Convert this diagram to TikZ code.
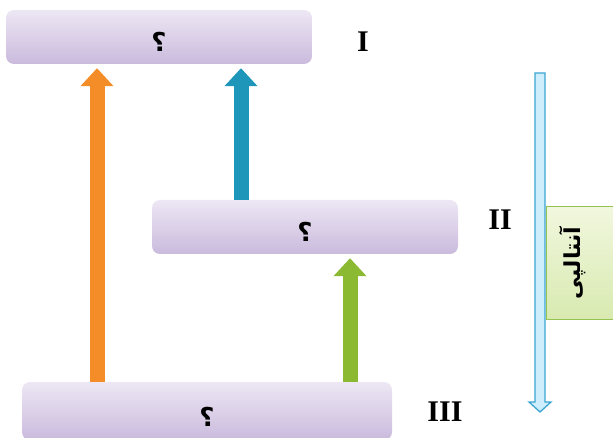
\documentclass[tikz,border=0pt]{standalone}
\usepackage{fontspec}
\setmainfont{Liberation Serif}
\newfontfamily\arabicfont[Script=Arabic]{DejaVu Sans}
\TeXXeTstate=1
\usepackage{tikz}
\usetikzlibrary{positioning, arrows.meta, calc}

\definecolor{boxtop}{RGB}{237,231,244}
\definecolor{boxbot}{RGB}{202,186,221}
\definecolor{enttop}{RGB}{241,247,222}
\definecolor{entbot}{RGB}{216,234,176}
\definecolor{entline}{RGB}{150,196,80}
\definecolor{arrorange}{RGB}{244,140,40}
\definecolor{arrblue}{RGB}{30,150,185}
\definecolor{arrgreen}{RGB}{140,185,50}
\definecolor{entarrow}{RGB}{60,165,210}
\definecolor{entfill}{RGB}{205,238,250}

\newcommand{\qmark}{\raisebox{-15pt}[0pt][0pt]{\beginR ؟\endR}}

\begin{document}
\begin{tikzpicture}[x=1pt, y=-1pt,
    level/.style={rounded corners=8pt, top color=boxtop, bottom color=boxbot,
                  inner sep=0pt, minimum height=54pt,
                  font=\arabicfont\bfseries\fontsize{26}{28}\selectfont},
    roman/.style={font=\bfseries\fontsize{30}{32}\selectfont},
    up/.style={line width=15pt,
               -{Triangle[width=32pt, length=18pt]}, shorten >=4pt},
    entbox/.style={draw=entline, thick, top color=enttop, bottom color=entbot,
                   minimum width=70pt, minimum height=113pt, inner sep=0pt}
  ]
    \useasboundingbox (0,0) rectangle (613,438);
    % energy levels
    \node[level, minimum width=306pt] (I)   at (159,37)  {\qmark};
    \node[level, minimum width=306pt] (II)  at (305,227) {\qmark};
    \node[level, minimum width=370pt, minimum height=58pt] (III) at (207,411) {\qmark};
    \node[roman] (lI)   at (363,42)  {I};
    \node[roman] (lII)  at (500,220) {II};
    \node[roman] (lIII) at (445,412) {III};
    % transitions
    \draw[up, arrorange] (III.north -| 97,0)  -- (I.south -| 97,0);
    \draw[up, arrblue]   (II.north -| 241,0)  -- (I.south -| 241,0);
    \draw[up, arrgreen]  (III.north -| 350,0) -- (II.south -| 350,0);
    % enthalpy axis
    \node[entbox] (ent) at (581,263) {};
    \node[rotate=90, font=\arabicfont\bfseries\fontsize{22}{24}\selectfont]
      (enttxt) at ([xshift=-8pt]ent.center) {\beginR آنتالپی\endR};
    \coordinate (etop) at (540,73);
    \coordinate (ebot) at (540,412);
    \draw[entarrow, line width=1.3pt, fill=entfill]
      ($(etop)+(-5,0)$) -- ($(etop)+(5,0)$) -- ($(ebot)+(5,-10)$)
      -- ($(ebot)+(11,-10)$) -- (ebot) -- ($(ebot)+(-11,-10)$)
      -- ($(ebot)+(-5,-10)$) -- cycle;
  \end{tikzpicture}
\end{document}
